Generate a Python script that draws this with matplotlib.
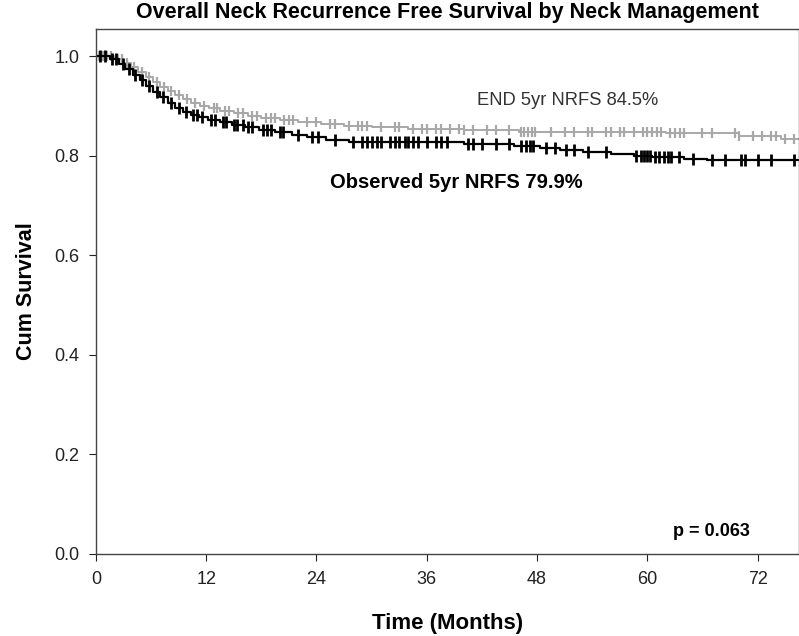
import numpy as np
import matplotlib
matplotlib.use("Agg")
import matplotlib.pyplot as plt

plt.rcParams['font.family'] = ['Liberation Sans', 'DejaVu Sans']

# Observed (black) - step times (months) and survival after each step
obs_t = [0, 1.5, 2.5, 3.2, 4, 4.8, 5.5, 6.2, 7, 7.8, 8.6, 9.5, 10.3, 11.2, 12.2,
         13.5, 14.8, 16.2, 17.8, 19.5, 21.3, 23, 25, 27.5, 40, 45.5, 48.3,
         50.5, 53, 56, 58.5, 60.5, 64, 66.5]
obs_s = [1.0, 0.995, 0.985, 0.975, 0.963, 0.952, 0.940, 0.928, 0.917, 0.906,
         0.896, 0.888, 0.882, 0.877, 0.872, 0.867, 0.862, 0.857, 0.852, 0.847,
         0.842, 0.837, 0.832, 0.827, 0.823, 0.820, 0.815, 0.812, 0.808, 0.804,
         0.800, 0.797, 0.794, 0.792]
obs_cens = [0.5, 1, 1.8, 2.2, 3, 3.6, 4.3, 5, 5.8, 6.6, 7.3, 8.2, 9, 9.8, 10.6,
            11, 11.6, 12.5, 13, 13.8, 14.2, 15, 15.4, 16, 16.6, 17, 18.2, 18.6,
            19, 20, 20.4, 22, 23.5, 24.2, 26, 28, 29, 29.5, 30, 30.6, 31, 32,
            32.5, 33, 33.6, 34, 34.5, 35, 36, 37, 37.5, 38.2, 40.5, 41, 42,
            43.5, 45, 46.3, 46.8, 47.2, 47.6, 49, 50, 51.2, 52, 53.5, 55.5,
            58.8, 59.3, 59.6, 60, 60.3, 60.8, 61.3, 61.8, 62.2, 62.6, 63.4,
            65, 67, 68.5, 70.2, 70.6, 72, 73.5, 76]

# END (gray)
end_t = [0, 2, 3, 3.8, 4.6, 5.4, 6.2, 7, 7.8, 8.6, 9.5, 10.4, 11.3, 12.3, 13.5,
         15, 16.5, 18, 20, 22, 24.5, 27, 30, 34, 40, 46, 62, 70, 74.5]
end_s = [1.0, 0.995, 0.987, 0.978, 0.968, 0.958, 0.948, 0.938, 0.929, 0.921,
         0.913, 0.906, 0.900, 0.895, 0.890, 0.885, 0.880, 0.876, 0.872, 0.868,
         0.864, 0.860, 0.857, 0.854, 0.851, 0.848, 0.845, 0.840, 0.834]
end_cens = [0.3, 0.8, 1.2, 1.6, 2.4, 2.8, 3.4, 4.2, 5, 5.8, 6.6, 7.4, 8.2, 9,
            9.9, 10.8, 11.8, 12.8, 13.2, 14, 14.5, 15.5, 16, 17, 17.5, 18.5,
            19, 19.5, 20.5, 21, 21.5, 23, 24, 25.5, 26, 27.5, 28.5, 29, 29.5,
            31, 32.5, 33, 34.5, 35.5, 36, 37, 37.5, 38.5, 39.5, 40, 41, 42.5,
            43.5, 45, 46.2, 46.6, 47, 47.4, 47.8, 49.5, 51, 52, 53.5, 54,
            55.5, 56, 57, 57.5, 58.5, 59.5, 60, 60.5, 61, 61.5, 62.5, 63, 63.5,
            64, 66, 67, 69.5, 70, 71.5, 72.5, 73.5, 74, 75, 76]


def km_at(times, t_steps, s_steps):
    idx = np.searchsorted(t_steps, times, side='right') - 1
    return np.array(s_steps)[idx]


fig = plt.figure(figsize=(7.99, 6.36), dpi=100)
ax = fig.add_axes([0.12, 0.129, 0.88, 0.825])

gray = '#a8a8a8'
ax.step(end_t + [77], end_s + [end_s[-1]], where='post', color=gray, lw=1.4)
ax.plot(end_cens, km_at(end_cens, end_t, end_s), ls='none', marker='|',
        ms=7, mew=1.6, color=gray)

ax.step(obs_t + [77], obs_s + [obs_s[-1]], where='post', color='black', lw=1.6)
ax.plot(obs_cens, km_at(obs_cens, obs_t, obs_s), ls='none', marker='|',
        ms=8, mew=2.0, color='black')

ax.set_xlim(0, 76.5)
ax.set_ylim(0, 1.054)
ax.set_xticks(np.arange(0, 73, 12))
ax.set_yticks(np.arange(0, 1.01, 0.2))
ax.set_yticklabels(['%.1f' % v for v in np.arange(0, 1.01, 0.2)])
ax.tick_params(direction='out', length=5, labelsize=13, colors='#222222', pad=7)
for sp in ax.spines.values():
    sp.set_color('#444444')
    sp.set_linewidth(1.0)

ax.set_xlabel('Time (Months)', fontsize=16, fontweight='bold', labelpad=18)
ax.set_ylabel('Cum Survival', fontsize=15.5, fontweight='bold', labelpad=12)
fig.text(0.56, 0.981, 'Overall Neck Recurrence Free Survival by Neck Management',
         ha='center', va='center', fontsize=15.5, fontweight='bold')

ax.text(41.5, 0.911, 'END 5yr NRFS 84.5%', fontsize=13.2, color='#333333',
        va='center')
ax.text(25.5, 0.746, 'Observed 5yr NRFS 79.9%', fontsize=14.5, fontweight='bold',
        va='center')
ax.text(62.8, 0.046, 'p = 0.063', fontsize=13, fontweight='bold', va='center')

fig.savefig('out.png', dpi=100)
